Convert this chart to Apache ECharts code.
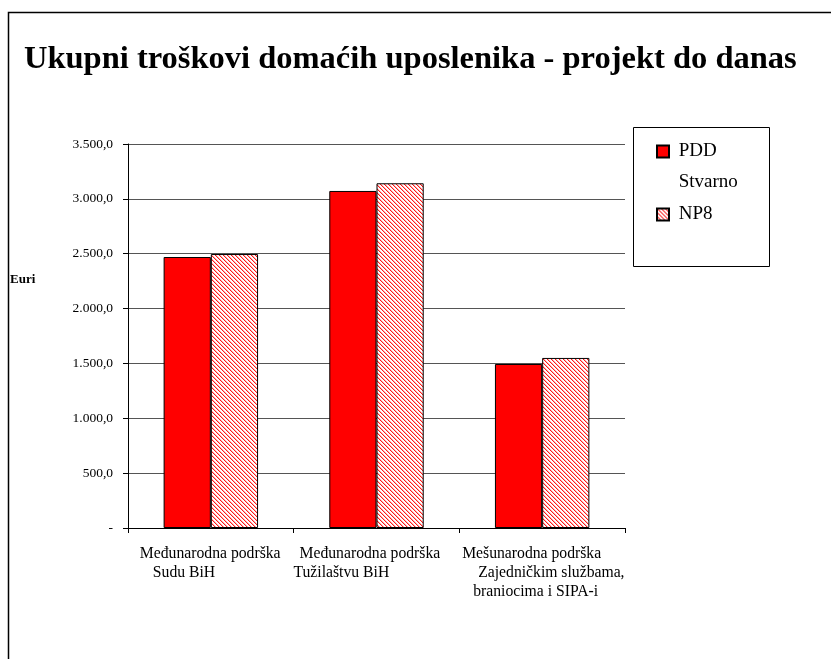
<!DOCTYPE html>
<html><head><meta charset="utf-8">
<script src="https://cdn.jsdelivr.net/npm/echarts@6/dist/echarts.min.js"></script>
<style>html,body{margin:0;padding:0;background:#fff}#c{width:831px;height:659px}</style>
</head><body><div id="c"></div>
<script>
var titleText = 'Ukupni troškovi domaćih uposlenika - projekt do danas';
var yAxisName = 'Euri';
var categories = [
  'Međunarodna podrška\nSudu BiH',
  'Međunarodna podrška\nTužilaštvu BiH',
  'Mešunarodna podrška\nZajedničkim službama,\nbraniocima i SIPA-i'
];
var seriesNames = ['PDD Stvarno', 'NP8'];
var pddStvarno = [2470, 3072, 1495];
var np8 = [2497, 3142, 1550];
var yMin = 0, yMax = 3500, yInterval = 500;

// per-line left offsets inside label block (style only)
var lineIndent = [[29, 42], [23, 17], [20, 36, 31]];

var font = '"Liberation Serif","Times New Roman",serif';

// hatch pattern
var pc = document.createElement('canvas');
pc.width = 4; pc.height = 4;
var pctx = pc.getContext('2d');
pctx.fillStyle = '#ffffff'; pctx.fillRect(0, 0, 4, 4);
for (var y = 0; y < 4; y++) for (var x = 0; x < 4; x++) {
  var d = ((x - y) % 4 + 4) % 4;
  if (d === 0) { pctx.fillStyle = '#ff1a1a'; pctx.fillRect(x, y, 1, 1); }
  else if (d === 1) { pctx.fillStyle = '#ffb0b0'; pctx.fillRect(x, y, 1, 1); }
}
var hatch = { image: pc, repeat: 'repeat' };

var rich = {};
var BW = 200;
lineIndent.forEach(function (arr, ci) {
  arr.forEach(function (p, li) {
    rich['c' + ci + 'l' + li] = {
      fontFamily: font, fontSize: 15.7, color: '#000', lineHeight: 19,
      width: BW - p, padding: [0, 0, 0, p], align: 'left'
    };
  });
});

function fmtNum(v) {
  if (v === 0) return '-';
  var s = v.toFixed(1).split('.');
  var ip = s[0].replace(/\B(?=(\d{3})+(?!\d))/g, '.');
  return ip + ',' + s[1];
}

var chart = echarts.init(document.getElementById('c'), null, { renderer: 'canvas' });
chart.setOption({
  animation: false,
  backgroundColor: '#fff',
  title: {
    text: titleText, left: 19, top: 38,
    textStyle: { fontFamily: font, fontSize: 32.5, fontWeight: 'bold', color: '#000' }
  },
  legend: {
    orient: 'vertical', left: 656, top: 105, padding: 0,
    itemWidth: 12, itemHeight: 12, itemGap: 1,
    data: seriesNames,
    formatter: function (n) {
      if (n === 'PDD Stvarno') return ' \n PDD\n Stvarno';
      return ' ' + n;
    },
    textStyle: { fontFamily: font, fontSize: 19, color: '#000', lineHeight: 31 },
    icon: 'rect'
  },
  graphic: [
    { type: 'rect', shape: { x: 8.5, y: 12.5, width: 900, height: 800 }, style: { fill: null, stroke: '#000', lineWidth: 1.5 }, silent: true },
    { type: 'rect', shape: { x: 633.5, y: 127.5, width: 136, height: 139 }, style: { fill: null, stroke: '#000', lineWidth: 1 }, silent: true },
    { type: 'text', left: 10, top: 273, style: { text: yAxisName, fontFamily: font, fontSize: 13, fontWeight: 'bold', fill: '#000' }, silent: true }
  ],
  grid: { left: 128, right: 206, top: 144, bottom: 131, containLabel: false },
  xAxis: {
    type: 'category', data: categories,
    axisLine: { lineStyle: { color: '#000', width: 1 } },
    axisTick: { show: true, length: 5, alignWithLabel: false, lineStyle: { color: '#000' } },
    axisLabel: {
      margin: 16, interval: 0, align: 'center',
      formatter: function (v, i) {
        return v.split('\n').map(function (t, li) { return '{c' + i + 'l' + li + '|' + t + '}'; }).join('\n');
      },
      rich: rich
    }
  },
  yAxis: {
    type: 'value', min: yMin, max: yMax, interval: yInterval,
    axisLine: { show: true, lineStyle: { color: '#000', width: 1 } },
    axisTick: { show: true, length: 5, lineStyle: { color: '#000' } },
    axisLabel: { fontFamily: font, fontSize: 13.5, color: '#000', margin: 15, formatter: fmtNum },
    splitLine: { show: true, lineStyle: { color: '#555', width: 1 } }
  },
  series: [
    {
      name: seriesNames[0], type: 'bar', data: pddStvarno,
      barGap: '0%', barCategoryGap: '43%',
      itemStyle: { color: '#ff0000', borderColor: '#000', borderWidth: 1 }
    },
    {
      name: seriesNames[1], type: 'bar', data: np8,
      itemStyle: { color: hatch, borderColor: '#000', borderWidth: 1 }
    }
  ]
});
</script></body></html>
